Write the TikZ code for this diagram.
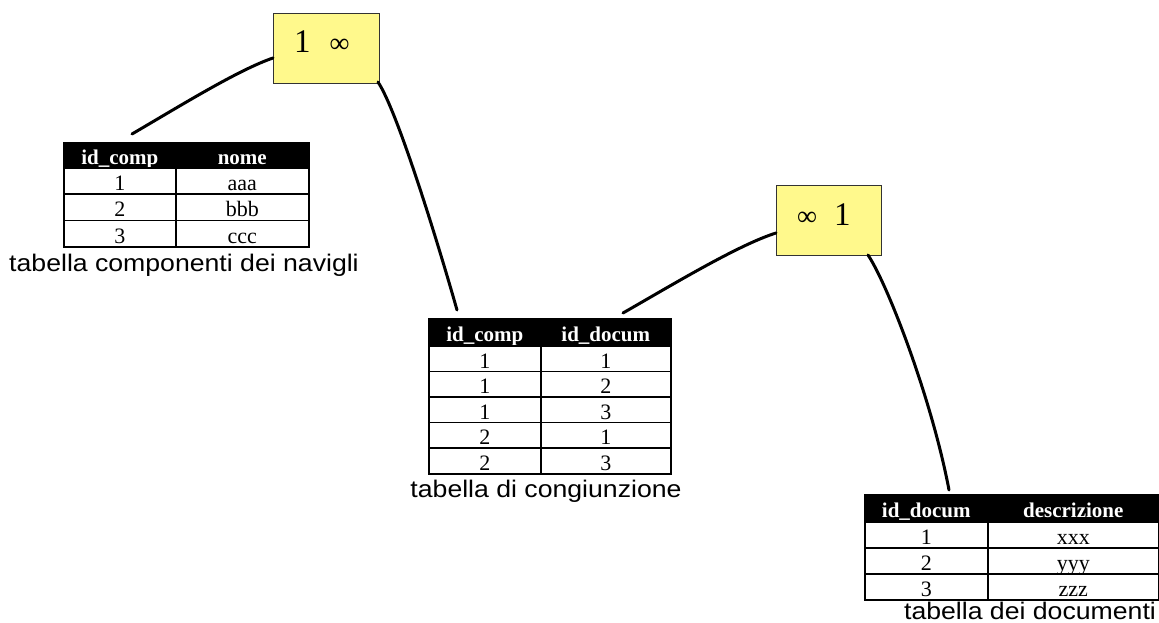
\documentclass[tikz,border=0pt]{standalone}
\usepackage{fontspec}
\newfontfamily\tabfont{Liberation Serif}
\newfontfamily\capfont[FakeStretch=1.11]{Liberation Sans}
\begin{document}
\begin{tikzpicture}[x=1pt,y=-1pt,
  cell/.style={draw=black, line width=1.6pt, inner sep=0pt, anchor=north west,
    text height=19pt, text depth=0pt,
    font=\tabfont\fontsize{22}{22}\selectfont},
  hcell/.style={cell, fill=black, text=white, text height=18pt, text depth=0pt,
    font=\tabfont\bfseries\fontsize{21}{21}\selectfont},
  relbox/.style={draw=black!80, line width=1pt, fill=yellow!45, inner sep=0pt, anchor=north west},
  caption/.style={anchor=base, inner sep=0pt, font=\capfont\fontsize{24}{24}\selectfont},
  link/.style={line width=3pt, line cap=round}]
\useasboundingbox (0,0) rectangle (1159,623);

% ---- relationship boxes
\node[relbox, minimum width=106pt, minimum height=70pt] (box1) at (273,13) {};
\node[anchor=base west, inner sep=0pt, font=\tabfont] (lab1) at (294,53)
  {\fontsize{33}{33}\selectfont 1\hspace{19pt}\fontsize{28}{28}\selectfont ∞};
\node[relbox, minimum width=105pt, minimum height=70pt] (box2) at (776,185) {};
\node[anchor=base west, inner sep=0pt, font=\tabfont] (lab2) at (797,225)
  {\fontsize{28}{28}\selectfont ∞\hspace{17pt}\fontsize{33}{33}\selectfont 1};

% ---- table 1
\node[hcell, minimum width=112pt, minimum height=25pt] (a-h1) at (63,142) {id\_comp};
\node[hcell, minimum width=133pt, minimum height=25pt] (a-h2) at (175,142) {nome};
\node[cell, minimum width=112pt, minimum height=26.3pt] (a-11) at (63,167) {1};
\node[cell, minimum width=133pt, minimum height=26.3pt] (a-12) at (175,167) {aaa};
\node[cell, minimum width=112pt, minimum height=26.3pt] (a-21) at (63,193.3) {2};
\node[cell, minimum width=133pt, minimum height=26.3pt] (a-22) at (175,193.3) {bbb};
\node[cell, minimum width=112pt, minimum height=26.3pt] (a-31) at (63,219.6) {3};
\node[cell, minimum width=133pt, minimum height=26.3pt] (a-32) at (175,219.6) {ccc};
\node[caption] (cap1) at (184,271) {tabella componenti dei navigli};

% ---- table 2
\node[hcell, minimum width=112pt, minimum height=27pt] (b-h1) at (428,318) {id\_comp};
\node[hcell, minimum width=130pt, minimum height=27pt] (b-h2) at (540,318) {id\_docum};
\node[cell, minimum width=112pt, minimum height=25.6pt] (b-11) at (428,345) {1};
\node[cell, minimum width=130pt, minimum height=25.6pt] (b-12) at (540,345) {1};
\node[cell, minimum width=112pt, minimum height=25.6pt] (b-21) at (428,370.6) {1};
\node[cell, minimum width=130pt, minimum height=25.6pt] (b-22) at (540,370.6) {2};
\node[cell, minimum width=112pt, minimum height=25.6pt] (b-31) at (428,396.2) {1};
\node[cell, minimum width=130pt, minimum height=25.6pt] (b-32) at (540,396.2) {3};
\node[cell, minimum width=112pt, minimum height=25.6pt] (b-41) at (428,421.8) {2};
\node[cell, minimum width=130pt, minimum height=25.6pt] (b-42) at (540,421.8) {1};
\node[cell, minimum width=112pt, minimum height=25.6pt] (b-51) at (428,447.4) {2};
\node[cell, minimum width=130pt, minimum height=25.6pt] (b-52) at (540,447.4) {3};
\node[caption] (cap2) at (546,497) {tabella di congiunzione};

% ---- table 3
\node[hcell, minimum width=123pt, minimum height=27pt] (c-h1) at (864,494) {id\_docum};
\node[hcell, minimum width=171pt, minimum height=27pt] (c-h2) at (987,494) {descrizione};
\node[cell, minimum width=123pt, minimum height=26pt] (c-11) at (864,521) {1};
\node[cell, minimum width=171pt, minimum height=26pt] (c-12) at (987,521) {xxx};
\node[cell, minimum width=123pt, minimum height=26pt] (c-21) at (864,547) {2};
\node[cell, minimum width=171pt, minimum height=26pt] (c-22) at (987,547) {yyy};
\node[cell, minimum width=123pt, minimum height=26pt] (c-31) at (864,573) {3};
\node[cell, minimum width=171pt, minimum height=26pt] (c-32) at (987,573) {zzz};
\node[caption] (cap3) at (1030,619) {tabella dei documenti};

% ---- connector end points
\coordinate (e1) at (132,134);
\coordinate (s1) at (273,58);
\coordinate (s2) at (378,82);
\coordinate (e2) at (457,310);
\coordinate (e3) at (623,313);
\coordinate (s3) at (776,233);
\coordinate (s4) at (868,255);
\coordinate (e4) at (949,490);

\draw[link] (e1) .. controls (180,106) and (238,70) .. (s1);
\draw[link] (s2) .. controls (398,112) and (440,250) .. (e2);
\draw[link] (e3) .. controls (672,285) and (738,245) .. (s3);
\draw[link] (s4) .. controls (888,285) and (932,400) .. (e4);
\end{tikzpicture}
\end{document}
